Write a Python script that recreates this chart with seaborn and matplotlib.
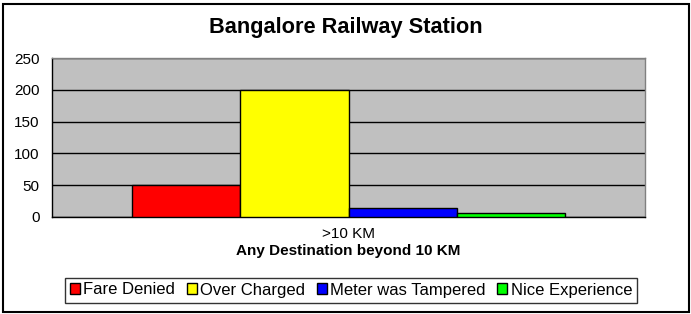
import matplotlib
matplotlib.use("Agg")
import matplotlib.pyplot as plt
import seaborn as sns
import pandas as pd
from matplotlib.patches import Rectangle, Patch

categories = [">10 KM"]
series = ["Fare Denied", "Over Charged", "Meter was Tampered", "Nice Experience"]
values = [50, 200, 14, 6]
colors = ["#FF0000", "#FFFF00", "#0000FF", "#00FF00"]

df = pd.DataFrame({"cat": categories * len(series), "series": series, "value": values})

sns.set_theme(style="white")
plt.rcParams["font.family"] = ["Liberation Sans", "DejaVu Sans"]
plt.rcParams["text.color"] = "black"
plt.rcParams["axes.labelcolor"] = "black"
plt.rcParams["xtick.color"] = "black"
plt.rcParams["ytick.color"] = "black"

fig = plt.figure(figsize=(6.91, 3.14), dpi=100)
ax = fig.add_axes([52 / 691, 1 - 217 / 314, (645 - 52) / 691, (217 - 58) / 314])
ax.set_facecolor("#C0C0C0")

sns.barplot(data=df, x="cat", y="value", hue="series", palette=colors,
            hue_order=series, ax=ax, width=0.8, edgecolor="black", linewidth=1,
            saturation=1, legend=False, zorder=3)

ax.set_ylim(0, 250)
ax.set_xlim(-0.548, 0.548)
ax.set_yticks(range(0, 251, 50))
ax.yaxis.grid(True, color="black", linewidth=1, zorder=1)
ax.set_axisbelow(True)
ax.tick_params(axis="both", length=0, labelsize=11, colors="black")
ax.tick_params(axis="y", pad=9)
ax.tick_params(axis="x", pad=7)
for s in ["top", "right"]:
    ax.spines[s].set_color("#808080")
    ax.spines[s].set_linewidth(1)
for s in ["left", "bottom"]:
    ax.spines[s].set_color("black")
    ax.spines[s].set_linewidth(1)
ax.set_ylabel("")
ax.set_xlabel("Any Destination beyond 10 KM", fontsize=11, fontweight="bold",
              labelpad=2, color="black")

fig.text(0.5, 1 - 27 / 314, "Bangalore Railway Station", ha="center", va="center",
         fontsize=15.7, fontweight="bold", color="black")

handles = [Patch(facecolor=c, edgecolor="black", linewidth=1) for c in colors]
leg = fig.legend(handles, series, loc="center", bbox_to_anchor=(351 / 691, 1 - 290 / 314),
                 ncol=4, frameon=True, fontsize=12, handlelength=0.6, handleheight=0.6,
                 handletextpad=0.2, columnspacing=0.7, borderpad=0.3, fancybox=False)
leg.get_frame().set_edgecolor("black")
leg.get_frame().set_linewidth(1)

fig.patches.append(Rectangle((2.5 / 691, 2.5 / 314), 686 / 691, 308 / 314,
                             transform=fig.transFigure, fill=False,
                             edgecolor="black", linewidth=1.5))

fig.savefig("out.png", dpi=100)
